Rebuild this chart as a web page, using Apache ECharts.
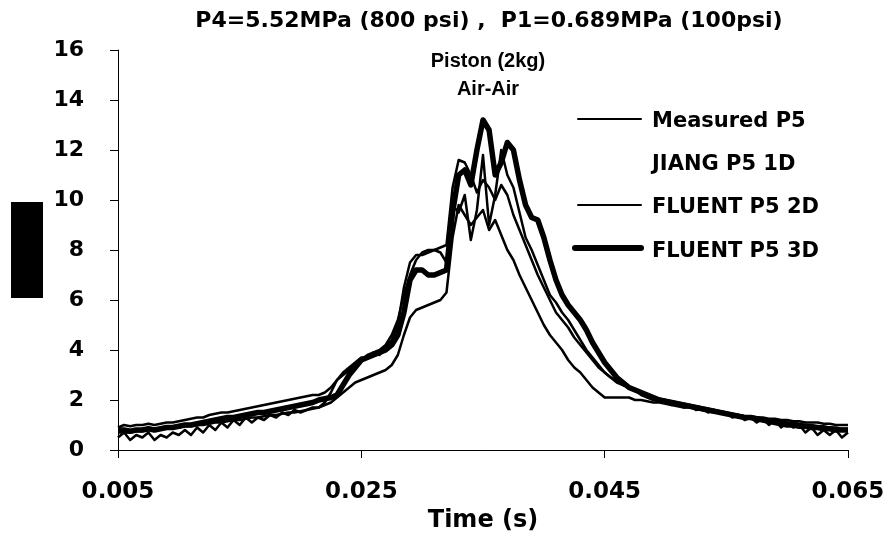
<!DOCTYPE html>
<html>
<head>
<meta charset="utf-8">
<script src="https://cdn.jsdelivr.net/npm/echarts@6/dist/echarts.min.js"></script>
<style>html,body{margin:0;padding:0;background:#fff}#c{width:893px;height:539px}</style>
</head>
<body>
<div id="c"></div>
<script>
const timeMs = [5,5.5,6,6.5,7,7.5,8,8.5,9,9.5,10,10.5,11,11.5,12,12.5,13,13.5,14,14.5,15,15.5,16,16.5,17,17.5,18,18.5,19,19.5,20,20.5,21,21.5,22,22.5,23,23.5,24,24.5,25,25.5,26,26.5,27,27.5,28,28.5,29,29.5,30,30.5,31,31.5,32,32.5,33,33.5,34,34.5,35,35.5,36,36.5,37,37.5,38,38.5,39,39.5,40,40.5,41,41.5,42,42.5,43,43.5,44,44.5,45,45.5,46,46.5,47,47.5,48,48.5,49,49.5,50,50.5,51,51.5,52,52.5,53,53.5,54,54.5,55,55.5,56,56.5,57,57.5,58,58.5,59,59.5,60,60.5,61,61.5,62,62.5,63,63.5,64,64.5,65];

const measuredP5 = [
 0.5,0.7,0.4,0.6,0.5,0.7,0.4,0.6,0.5,0.7,0.6,
 0.8,0.6,0.9,0.7,1.0,0.8,1.1,0.9,1.2,1.0,
 1.3,1.1,1.3,1.2,1.4,1.3,1.5,1.4,1.6,1.5,
 1.6,1.7,1.7,1.9,2.3,2.8,
 3.1,3.3,3.5,3.7,
 3.7,3.9,3.8,4.1,4.4,5.0,
 6.5,7.5,7.8,
 7.8,7.9,8.0,7.9,7.5,
 9.8,9.5,10.2,8.4,9.6,11.8,9.0,10.2,12.0,11.0,10.5,9.5,8.5,8.0,7.4,6.8,6.2,5.9,5.5,5.2,4.8,4.4,4.0,3.7,3.4,3.1,2.9,2.7,2.6,2.5,2.4,2.2,2.1,2.0,1.95,1.9,
 1.8,1.85,1.7,1.75,1.6,1.65,1.5,1.6,1.45,1.5,
 1.3,1.4,1.2,1.3,1.1,1.25,1.0,1.2,0.9,1.1,
 0.9,1.0,0.7,0.9,0.6,0.8,0.6,0.8,0.5,0.7
];
const jiangP5_1D = [
 0.7,0.7,0.7,0.75,0.75,0.8,0.8,0.85,0.85,0.9,0.9,
 0.95,0.95,1.0,1.0,1.05,1.1,1.1,1.15,1.2,1.2,
 1.25,1.3,1.3,1.35,1.4,1.4,1.45,1.5,1.5,1.55,
 1.6,1.65,1.7,1.8,1.9,2.1,
 2.3,2.5,2.7,2.8,
 2.9,3.0,3.1,3.2,3.4,3.8,
 4.6,5.3,5.6,
 5.7,5.8,5.9,6.0,6.3,
 8.5,9.8,9.4,9.0,9.3,9.6,8.8,9.2,8.6,8.0,7.6,7.0,6.5,6.0,5.5,5.0,4.6,4.3,4.0,3.6,3.3,3.1,2.8,2.5,2.3,2.1,2.1,2.1,2.1,2.1,2.0,2.0,1.95,1.9,1.9,1.85,
 1.8,1.75,1.7,1.7,1.65,1.6,1.55,1.5,1.5,1.45,
 1.4,1.4,1.35,1.3,1.3,1.25,1.2,1.2,1.15,1.1,
 1.1,1.05,1.0,1.0,0.95,0.95,0.9,0.9,0.85,0.85
];
const fluentP5_2D = [
 0.9,1.0,0.95,1.0,1.0,1.05,1.0,1.05,1.1,1.1,1.15,
 1.2,1.25,1.3,1.3,1.4,1.45,1.5,1.5,1.55,1.6,
 1.65,1.7,1.75,1.8,1.85,1.9,1.95,2.0,2.05,2.1,
 2.15,2.2,2.2,2.3,2.5,2.8,
 3.0,3.2,3.4,3.6,
 3.8,3.9,4.0,4.2,4.6,5.2,
 6.2,7.0,7.6,
 7.9,8.0,8.0,8.1,8.2,
 10.5,11.6,11.5,11.0,10.3,10.8,10.5,10.0,10.6,10.2,9.4,8.8,8.2,7.6,7.0,6.5,6.0,5.5,5.2,4.9,4.5,4.2,3.9,3.6,3.3,3.1,2.9,2.8,2.6,2.5,2.4,2.3,2.2,2.1,2.05,2.0,
 1.95,1.9,1.85,1.8,1.75,1.7,1.65,1.6,1.55,1.5,
 1.45,1.4,1.35,1.35,1.3,1.3,1.25,1.25,1.2,1.2,
 1.15,1.15,1.1,1.1,1.1,1.05,1.05,1.0,1.0,1.0
];
const fluentP5_3D = [
 0.8,0.8,0.75,0.8,0.8,0.85,0.8,0.85,0.9,0.9,0.95,
 1.0,1.0,1.05,1.1,1.15,1.2,1.25,1.3,1.3,1.35,
 1.4,1.45,1.5,1.5,1.55,1.6,1.65,1.7,1.75,1.8,
 1.85,1.9,2.0,2.05,2.1,2.2,
 2.6,3.0,3.3,3.6,
 3.7,3.8,3.9,4.0,4.2,4.6,
 5.5,6.8,7.2,
 7.2,7.0,7.0,7.1,7.2,
 9.5,11.0,11.2,10.6,12.0,13.2,12.8,11.0,11.5,12.3,12.0,10.8,9.8,9.3,9.2,8.5,7.6,6.8,6.2,5.8,5.5,5.2,4.8,4.3,3.9,3.5,3.2,2.9,2.7,2.5,2.4,2.3,2.2,2.1,2.0,1.95,
 1.9,1.85,1.8,1.75,1.7,1.65,1.6,1.55,1.5,1.45,
 1.4,1.35,1.3,1.3,1.25,1.2,1.15,1.1,1.05,1.0,
 1.0,0.95,0.95,0.9,0.9,0.85,0.85,0.8,0.8,0.8
];
const seriesNames = ['Measured P5','JIANG P5 1D','FLUENT P5 2D','FLUENT P5 3D'];
const xTicks = [0.005, 0.025, 0.045, 0.065];
const yTicks = [0,2,4,6,8,10,12,14,16];
const titleLines = ['P4=5.52MPa (800 psi) ,  P1=0.689MPa (100psi)','Piston (2kg)','Air-Air'];

const FONT = 'DejaVu Sans';
const FONT2 = 'Liberation Sans';
function pairs(vals){ return timeMs.map((t,i)=>[t/1000, vals[i]]); }

const chart = echarts.init(document.getElementById('c'), null, {renderer:'canvas'});
const lineW = [2.5, 2.5, 2.5, 5.5];
const valsList = [measuredP5, jiangP5_1D, fluentP5_2D, fluentP5_3D];

// legend sample strokes (legend icons hidden; text from legend component)
const legendTop = 105, legendStep = 43, legendLeft = 578;
const legendSamples = [
  {i:0, w:2}, {i:2, w:2}, {i:3, w:6}
].map(o=>({type:'line', shape:{x1:legendLeft - (o.w>3?3:0), y1:legendTop+14+o.i*legendStep, x2:legendLeft+63, y2:legendTop+14+o.i*legendStep},
  style:{stroke:'#000', lineWidth:o.w, lineCap:'round'}}));

chart.setOption({
  backgroundColor:'#fff',
  animation:false,
  title: [
    {text:titleLines[0], left:484, top:5, textAlign:'center', textStyle:{fontFamily:FONT,fontWeight:'bold',fontSize:22,color:'#000'}},
    {text:titleLines[1], left:483, top:46, textAlign:'center', textStyle:{fontFamily:FONT2,fontWeight:'bold',fontSize:20,color:'#000'}},
    {text:titleLines[2], left:483, top:74, textAlign:'center', textStyle:{fontFamily:FONT2,fontWeight:'bold',fontSize:20,color:'#000'}}
  ],
  legend: {
    orient:'vertical', left:legendLeft, top:legendTop, itemWidth:63, itemHeight:28, itemGap:21,
    textStyle:{fontFamily:FONT,fontWeight:'bold',fontSize:21,color:'#000'},
    itemStyle:{opacity:0}, lineStyle:{opacity:0},
    data:seriesNames.map(n=>({name:n}))
  },
  grid:{left:118, right:45, top:50, bottom:89},
  xAxis:{
    type:'value', min:xTicks[0], max:xTicks[xTicks.length-1], interval:0.02,
    name:'Time (s)', nameLocation:'middle', nameGap:58,
    nameTextStyle:{fontFamily:FONT,fontWeight:'bold',fontSize:24,color:'#000'},
    axisLine:{show:true,lineStyle:{color:'#000',width:1}},
    axisTick:{show:true,inside:false,length:8,lineStyle:{color:'#000'}},
    splitLine:{show:false},
    axisLabel:{margin:31,fontFamily:FONT,fontWeight:'bold',fontSize:23,color:'#000',
      formatter:v=>{ let best=xTicks.reduce((a,b)=>Math.abs(b-v)<Math.abs(a-v)?b:a); return best.toFixed(3);} }
  },
  yAxis:{
    type:'value', min:yTicks[0], max:yTicks[yTicks.length-1], interval:2,
    axisLine:{show:true,lineStyle:{color:'#000',width:1}},
    axisTick:{show:true,inside:false,length:8,lineStyle:{color:'#000'}},
    splitLine:{show:false},
    axisLabel:{margin:34,fontFamily:FONT,fontWeight:'bold',fontSize:22,color:'#000'}
  },
  graphic:[{type:'rect', shape:{x:11,y:202,width:32,height:96}, style:{fill:'#000'}}].concat(legendSamples),
  series: valsList.map((v,k)=>({
    name:seriesNames[k], type:'line', data:pairs(v), showSymbol:false, symbol:'none',
    lineStyle:{color:'#000', width:lineW[k], join:'round'}, itemStyle:{color:'#000'},
    emphasis:{disabled:true}, z: k===3?3:2
  }))
});
</script>
</body>
</html>
